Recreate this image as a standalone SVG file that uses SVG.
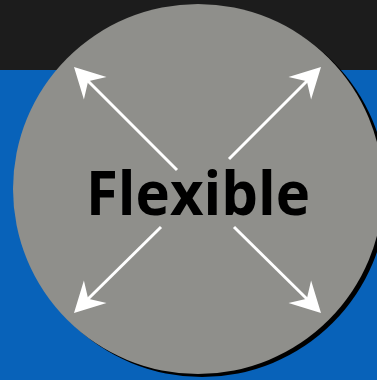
<svg xmlns="http://www.w3.org/2000/svg" width="377" height="380" viewBox="0 0 377 380">
  <style>
    .arrow-line { stroke: #ffffff; stroke-width: 3; fill: none; }
    .arrow-head { fill: #ffffff; }
    .label { font-family: "Open Sans", "Liberation Sans", sans-serif; font-weight: bold; font-size: 61px; fill: #000000; }
  </style>
  <defs>
    <path id="head" class="arrow-head" d="M0,0 L-30,-16 L-20,0 L-30,16 Z"/>
  </defs>
  <g id="background">
    <rect x="0" y="0" width="377" height="380" fill="#0862b9"/>
    <rect x="0" y="0" width="377" height="70" fill="#1c1c1c"/>
  </g>
  <g id="circle-node">
    <circle cx="202" cy="192" r="185" fill="#000000"/>
    <circle cx="198" cy="189" r="185" fill="#8f8f8b"/>
    <text class="label" x="86" y="215" textLength="224" lengthAdjust="spacingAndGlyphs">Flexible</text>
  </g>
  <g id="connectors">
    <line class="arrow-line" x1="177" y1="170" x2="88" y2="81"/>
    <use href="#head" transform="translate(74,67) rotate(-135)"/>
    <line class="arrow-line" x1="229" y1="159" x2="307" y2="81"/>
    <use href="#head" transform="translate(321,67) rotate(-45)"/>
    <line class="arrow-line" x1="161" y1="227" x2="88" y2="299"/>
    <use href="#head" transform="translate(74,313) rotate(135)"/>
    <line class="arrow-line" x1="234" y1="227" x2="307" y2="299"/>
    <use href="#head" transform="translate(321,313) rotate(45)"/>
  </g>
</svg>
